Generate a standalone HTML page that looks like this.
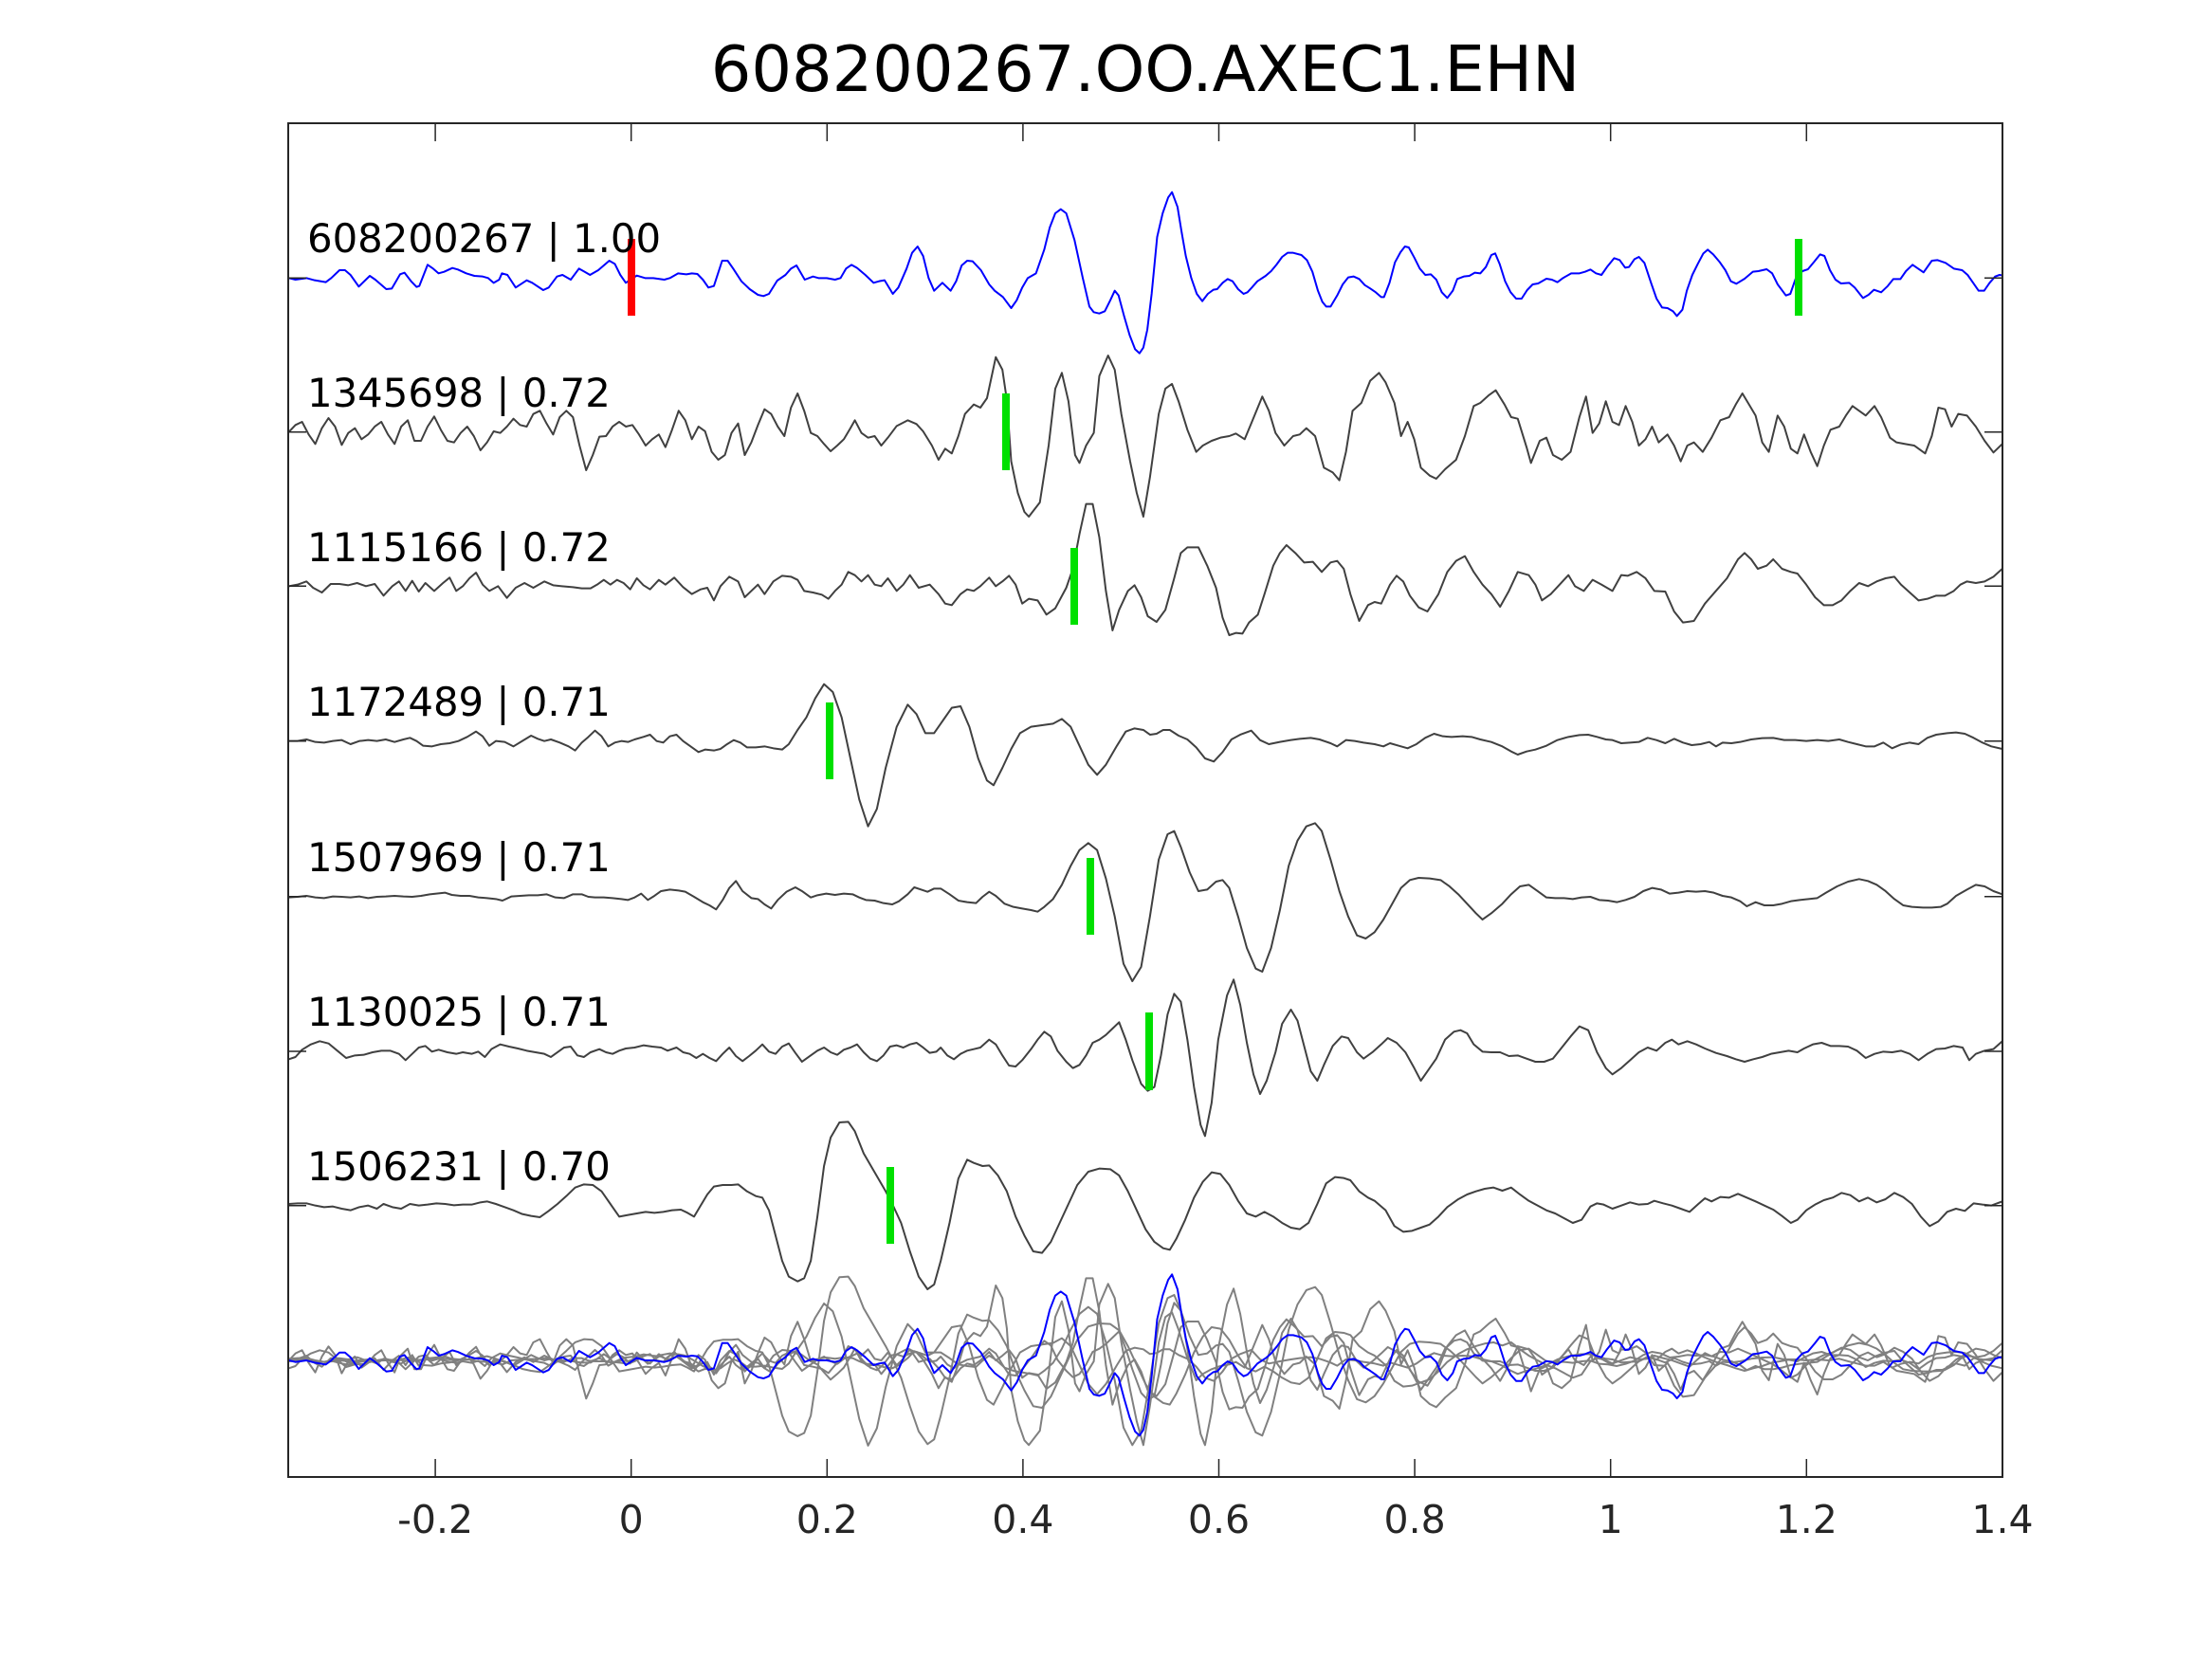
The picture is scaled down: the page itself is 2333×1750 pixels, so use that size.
<!DOCTYPE html>
<html><head><meta charset="utf-8"><style>
html,body{margin:0;padding:0;background:#fff;}
svg{display:block;}
text{font-family:"DejaVu Sans","Liberation Sans",sans-serif;}
</style></head><body>
<svg width="2333" height="1750" viewBox="0 0 2333 1750" xmlns="http://www.w3.org/2000/svg">
<rect width="2333" height="1750" fill="#fff"/>
<defs>
<clipPath id="ax"><rect x="304" y="130" width="1808" height="1428"/></clipPath>
<g id="t1" fill="none">
<polyline vector-effect="non-scaling-stroke" stroke-linejoin="round" transform="translate(300,180) scale(0.5807,0.33333)" points="8,340 20,345 40,340 55,347 75,353 85,340 100,315 110,315 120,330 135,367 155,333 165,345 185,375 195,373 210,328 218,323 230,350 240,368 245,365 260,298 270,310 280,325 290,320 305,308 315,313 330,325 345,333 360,335 370,340 380,355 390,345 395,325 405,330 420,370 440,347 450,355 470,378 480,370 495,335 505,330 520,345 535,310 545,320 555,330 570,315 590,285 600,295 610,330 620,355 640,332 655,340 670,340 690,345 700,340 715,325 730,328 740,325 750,327 760,345 770,370 780,365 795,285 805,285 815,310 830,350 845,375 860,393 870,397 880,390 895,348 910,330 920,310 930,300 945,345 960,335 970,340 985,340 1000,345 1010,340 1020,310 1030,298 1040,308 1055,330 1070,355 1080,350 1090,347 1105,390 1115,370 1130,310 1140,260 1150,240 1160,270 1170,340 1180,380 1195,355 1210,380 1220,350 1230,300 1240,285 1250,287 1265,315 1280,360 1290,380 1305,400 1320,435 1330,410 1340,370 1350,340 1365,325 1380,250 1390,180 1400,135 1410,122 1420,135 1435,220 1450,340 1462,430 1470,448 1480,452 1490,445 1500,410 1508,380 1515,395 1525,460 1535,520 1545,565 1553,578 1560,560 1567,505"/>
<polyline vector-effect="non-scaling-stroke" stroke-linejoin="round" transform="translate(1210,180) scale(0.5807,0.33333)" points="0,505 8,390 18,210 28,135 38,85 45,68 55,115 62,190 70,270 80,340 90,390 100,413 110,390 120,377 127,375 137,355 146,343 155,350 165,375 175,390 182,385 190,370 200,350 215,333 225,318 235,297 245,273 255,260 265,260 280,267 290,283 300,320 310,380 318,415 325,430 333,430 345,395 355,360 365,338 375,335 385,343 395,362 405,373 415,385 425,400 430,400 440,355 450,290 460,258 468,240 475,243 485,275 495,310 505,330 515,328 525,345 535,385 545,403 555,380 563,343 575,335 585,333 595,323 605,325 615,305 625,267 632,262 640,295 650,350 660,385 670,405 680,405 690,378 700,360 710,357 725,342 735,345 745,353 755,340 770,325 785,325 795,320 805,313 815,325 825,330 835,305 848,277 858,283 868,307 875,305 885,280 893,273 903,292 915,355 925,405 935,433 945,435 955,445 962,460 972,440 980,380 990,330 1000,295 1010,262 1018,250 1028,265 1040,290 1050,315 1060,350 1070,358 1085,342 1100,320 1110,318 1125,312 1135,325 1145,360 1160,395 1168,390 1178,340 1190,318 1200,312 1212,287 1222,265 1230,270 1240,315 1250,345 1260,357 1275,355 1285,370 1300,403 1310,393 1320,377 1333,385 1345,365 1355,343 1368,343 1378,318 1390,298 1400,310 1410,322 1425,285 1435,283 1450,292 1465,310 1480,315 1490,330 1500,355 1510,380 1520,380 1530,355 1540,335 1548,330 1555,332"/>
</g>
<polyline id="t2" fill="none" vector-effect="non-scaling-stroke" stroke-linejoin="round" transform="translate(300,370) scale(1.1614,0.33333)" points="4,257 10,235 16,225 22,265 28,295 34,245 40,213 46,240 52,298 58,260 64,245 70,280 76,265 82,240 88,225 94,265 100,295 106,240 112,220 118,285 124,285 130,240 136,208 142,250 148,285 154,290 160,260 166,240 172,270 178,315 184,290 190,255 196,260 202,240 208,215 214,235 220,240 226,200 232,190 238,230 244,265 250,210 256,190 262,210 268,300 274,378 280,330 286,272 292,270 298,240 304,225 310,240 316,235 322,265 328,300 334,280 340,265 346,305 352,250 358,190 364,220 370,280 376,240 382,255 388,320 394,345 400,330 406,260 412,230 418,330 424,290 430,235 436,185 442,200 448,240 454,270 460,180 466,135 472,190 478,260 484,270 490,295 496,318 502,300 508,280 514,245 518,220 524,260 530,275 536,270 542,300 548,275 556,238 566,220 574,232 580,255 588,300 594,345 600,310 606,325 612,270 618,200 626,170 632,180 638,150 646,20 652,60 656,155 660,350 666,450 672,510 676,525 686,480 694,300 700,120 706,70 712,160 718,330 722,355 728,300 735,260 740,80 748,15 754,60 760,200 768,350 774,450 780,525 786,400 794,200 800,120 806,105 812,160 820,250 828,320 834,300 842,285 850,275 858,270 864,262 872,280 878,230 888,145 894,190 900,260 908,300 916,270 922,265 928,245 936,270 944,370 952,385 958,410 964,320 970,190 978,165 986,95 994,70 1000,100 1008,165 1014,270 1020,225 1026,280 1032,370 1040,395 1046,405 1054,375 1064,345 1072,270 1080,175 1086,165 1094,140 1100,125 1108,170 1114,210 1120,215 1128,305 1132,355 1140,285 1146,275 1152,330 1160,345 1168,320 1176,210 1182,145 1188,260 1194,230 1200,160 1206,225 1212,235 1218,175 1224,225 1230,300 1236,280 1242,240 1248,290 1256,265 1262,300 1268,350 1274,300 1280,290 1288,320 1296,275 1304,220 1312,210 1318,170 1324,135 1330,170 1336,205 1342,290 1348,320 1356,205 1362,240 1368,310 1374,325 1380,265 1386,320 1392,365 1398,300 1404,250 1412,240 1418,205 1424,175 1430,190 1436,205 1444,175 1450,210 1458,275 1464,290 1472,295 1480,300 1490,325 1496,270 1502,180 1508,185 1514,240 1520,200 1528,205 1536,240 1544,285 1552,322 1560,295"/>
<polyline id="t3" fill="none" vector-effect="non-scaling-stroke" stroke-linejoin="round" transform="translate(300,370) scale(1.1614,0.33333)" points="4,745 12,740 20,730 26,750 34,765 42,738 50,738 58,742 66,735 74,745 82,738 90,775 98,745 104,730 110,760 116,728 122,762 128,735 136,760 144,735 150,718 156,760 162,745 168,720 174,702 180,740 186,760 194,745 202,782 210,750 218,735 226,750 236,730 244,742 252,745 262,748 270,752 278,752 284,740 290,725 296,740 302,725 308,735 314,755 320,720 326,742 332,755 340,725 346,740 354,718 362,748 370,770 378,755 384,750 390,790 396,745 404,715 412,730 418,780 424,760 430,740 436,770 444,730 452,712 460,715 466,725 472,760 480,765 488,772 494,785 500,760 506,740 512,700 518,710 524,730 530,710 536,740 542,745 548,720 556,760 562,740 568,710 576,750 586,740 594,770 600,800 606,805 614,770 620,755 626,760 632,745 640,718 646,745 652,730 658,712 664,740 670,800 676,785 684,790 692,835 700,815 710,750 716,690 722,580 728,485 734,485 740,590 746,760 752,885 758,820 766,760 772,742 778,780 784,840 792,858 800,820 808,720 814,640 820,622 830,622 838,680 846,750 852,845 858,900 864,893 870,895 876,860 884,835 890,770 898,680 904,640 910,615 918,640 926,670 934,668 942,700 950,670 956,665 962,690 968,770 976,855 984,805 990,795 996,800 1004,740 1010,712 1016,730 1022,775 1030,812 1038,825 1048,770 1056,700 1064,665 1072,650 1080,700 1088,740 1096,770 1104,810 1112,760 1120,700 1130,710 1136,740 1142,790 1150,770 1158,740 1166,710 1172,745 1180,760 1188,725 1196,740 1206,760 1214,710 1220,712 1228,700 1236,720 1244,760 1254,762 1262,825 1270,860 1280,855 1290,800 1300,760 1310,720 1320,660 1326,640 1332,660 1338,690 1346,680 1352,660 1360,690 1368,700 1374,705 1382,740 1390,780 1398,805 1406,805 1414,790 1422,760 1430,735 1438,745 1446,730 1454,720 1462,715 1468,740 1476,765 1484,790 1492,785 1500,775 1508,775 1516,760 1522,740 1528,730 1536,735 1544,730 1552,715 1560,690"/>
<polyline id="t4" fill="none" vector-effect="non-scaling-stroke" stroke-linejoin="round" transform="translate(300,700) scale(1.1614,0.33333)" points="4,245 12,245 20,240 28,248 36,250 44,245 52,242 60,255 68,245 76,242 84,245 92,240 100,248 108,240 114,235 120,245 126,260 134,262 142,255 150,252 158,245 166,232 174,215 180,230 186,260 192,245 200,248 208,262 216,245 224,228 230,238 236,245 242,240 250,250 258,262 264,275 270,250 276,232 282,212 288,230 294,262 300,250 306,245 312,248 318,240 326,232 332,225 338,245 344,250 350,230 356,225 362,245 370,265 376,280 382,272 390,275 396,270 402,255 408,242 414,250 420,265 428,265 436,262 444,268 452,272 458,255 466,210 474,170 482,110 490,65 498,90 506,170 514,300 522,430 530,515 538,460 546,330 556,200 566,130 574,160 582,220 590,220 598,180 606,140 614,135 622,200 630,300 638,370 644,385 652,330 660,270 668,220 678,200 688,195 698,190 706,175 714,200 722,260 730,320 738,352 746,320 756,260 764,215 772,205 780,210 786,225 792,222 798,210 804,210 812,228 820,240 828,265 836,300 844,310 852,280 860,240 868,225 878,212 886,242 894,255 904,248 914,242 922,238 932,235 940,240 950,252 956,262 964,242 972,245 980,250 990,255 998,262 1004,252 1012,260 1020,268 1028,255 1036,235 1044,222 1052,230 1060,232 1070,230 1078,232 1086,240 1096,248 1106,262 1114,278 1120,288 1128,278 1136,272 1146,260 1156,242 1166,232 1176,226 1184,225 1192,232 1200,240 1206,242 1214,252 1222,250 1230,248 1238,235 1246,242 1254,252 1262,238 1270,250 1278,258 1286,255 1294,248 1300,262 1306,250 1314,252 1322,248 1332,240 1342,236 1352,235 1362,242 1372,242 1382,245 1392,242 1402,245 1412,240 1420,248 1428,255 1436,262 1444,262 1452,250 1460,268 1468,256 1476,250 1484,255 1492,235 1500,225 1510,220 1518,218 1526,222 1534,235 1542,250 1550,262 1560,270"/>
<polyline id="t5" fill="none" vector-effect="non-scaling-stroke" stroke-linejoin="round" transform="translate(300,700) scale(1.1614,0.33333)" points="4,740 12,738 20,735 28,740 36,742 44,737 52,738 60,740 68,737 76,742 84,738 92,737 100,735 108,737 116,738 124,735 132,730 140,727 146,725 152,732 160,735 168,735 176,740 184,742 192,745 198,750 206,737 214,735 222,733 230,733 238,730 246,740 254,742 262,730 270,730 276,738 282,740 290,740 298,742 306,745 312,748 318,740 324,728 330,748 336,735 342,720 350,715 358,718 364,722 372,738 380,755 386,765 392,778 398,748 404,710 410,688 416,720 424,742 430,745 436,762 442,775 448,748 456,722 464,708 470,720 478,740 484,733 492,728 500,732 508,728 516,730 522,740 528,748 536,750 544,758 552,762 558,752 566,730 572,708 578,715 584,722 590,712 596,712 604,730 612,750 620,755 628,758 634,738 640,722 646,735 654,760 662,770 670,775 678,780 684,785 690,770 698,745 706,700 714,640 722,590 730,568 738,590 746,680 754,800 762,950 770,1005 778,960 786,800 794,620 802,540 808,530 814,580 822,660 830,720 838,715 846,690 852,685 858,710 866,800 874,900 882,965 888,975 896,900 904,780 912,640 920,560 928,515 936,505 942,530 950,620 958,720 966,800 974,860 982,870 990,850 998,810 1006,760 1014,710 1022,685 1030,678 1040,680 1050,685 1058,705 1066,730 1074,760 1082,790 1088,810 1096,790 1106,760 1114,730 1122,705 1130,700 1138,720 1146,740 1154,742 1162,742 1170,745 1178,740 1186,738 1194,748 1202,750 1210,755 1218,748 1226,738 1234,720 1242,710 1250,715 1258,728 1266,725 1274,720 1282,722 1290,720 1298,725 1306,735 1314,740 1322,752 1328,768 1336,755 1344,765 1352,765 1360,760 1368,752 1376,748 1384,745 1392,742 1400,725 1410,705 1420,690 1430,682 1438,688 1446,700 1454,720 1462,745 1470,765 1478,770 1488,772 1496,772 1504,770 1510,760 1518,735 1528,715 1536,700 1544,705 1552,720 1560,730"/>
<polyline id="t6" fill="none" vector-effect="non-scaling-stroke" stroke-linejoin="round" transform="translate(300,1030) scale(1.1614,0.33333)" points="4,262 10,255 16,232 24,215 32,205 40,212 48,235 56,258 64,250 72,248 80,240 88,235 96,235 104,245 110,265 116,245 122,225 128,220 134,238 140,232 148,240 156,245 162,240 170,245 176,238 182,255 188,230 196,215 204,222 212,228 220,235 228,240 236,245 242,255 248,240 254,225 260,222 266,250 272,255 278,240 286,230 292,240 298,245 304,235 310,228 318,225 326,218 334,222 342,225 348,235 356,225 362,240 368,245 374,258 380,245 386,258 392,268 398,245 404,225 410,252 416,268 422,252 428,235 434,215 440,238 446,245 452,222 458,212 464,242 470,270 476,255 484,235 490,225 496,240 502,248 508,232 514,225 520,215 526,240 532,260 538,268 544,250 550,222 556,218 562,225 568,215 574,210 580,225 586,242 592,238 596,225 602,250 608,262 614,245 620,235 626,230 632,225 640,200 646,215 652,250 658,282 664,285 670,265 678,230 684,200 690,175 696,190 702,235 710,270 716,290 722,280 728,250 734,210 740,200 746,185 752,165 758,145 764,200 770,265 778,340 784,362 790,350 796,250 802,120 808,55 814,80 820,200 826,350 832,470 836,505 842,400 848,200 856,60 862,10 868,90 874,210 880,310 886,372 892,330 900,240 906,150 914,105 920,140 926,220 932,300 938,330 944,280 952,220 960,190 966,195 974,240 980,260 988,240 996,215 1002,195 1010,210 1018,240 1026,290 1032,330 1040,290 1046,260 1054,200 1062,175 1068,170 1074,180 1080,215 1088,238 1096,240 1104,240 1112,252 1120,250 1128,260 1136,270 1144,270 1152,260 1160,225 1168,190 1176,158 1184,170 1192,240 1200,290 1206,310 1214,290 1222,265 1230,240 1238,225 1246,235 1254,210 1260,200 1266,215 1274,205 1282,215 1290,228 1300,242 1310,252 1318,262 1326,270 1334,262 1342,255 1350,245 1358,240 1366,235 1374,240 1380,228 1388,215 1396,210 1404,220 1412,220 1420,222 1428,235 1436,258 1444,245 1452,238 1460,240 1468,235 1476,245 1484,265 1492,245 1500,230 1508,228 1516,220 1524,225 1530,265 1536,245 1544,235 1552,230 1560,205"/>
<polyline id="t7" fill="none" vector-effect="non-scaling-stroke" stroke-linejoin="round" transform="translate(300,1030) scale(1.1614,0.33333)" points="4,720 12,718 20,718 28,725 36,730 44,728 52,735 60,740 68,730 76,725 84,735 90,720 98,730 106,735 114,720 122,725 130,722 138,718 146,720 154,724 162,722 170,722 178,715 184,712 192,720 200,730 208,740 216,752 224,758 232,762 240,742 248,720 256,695 264,668 272,658 280,660 288,680 296,720 304,760 312,755 320,750 328,745 336,748 344,745 352,740 360,738 366,748 372,760 378,725 384,690 390,665 398,660 406,660 412,658 420,680 428,695 434,700 440,740 446,820 452,900 458,950 466,965 472,955 478,900 484,760 490,600 496,510 504,462 512,460 518,490 526,560 536,620 546,680 552,720 560,780 568,870 576,950 584,990 590,975 596,900 604,780 612,640 620,580 626,590 634,600 640,598 648,630 656,680 664,760 672,820 680,870 688,875 696,840 704,780 712,720 720,660 730,618 740,608 750,610 758,630 766,680 774,740 782,800 790,840 798,860 804,865 810,830 818,770 826,700 834,650 842,620 850,625 858,660 866,710 874,750 882,760 890,745 898,760 906,780 914,795 922,800 930,780 938,720 946,655 954,635 962,638 968,645 976,680 984,700 990,710 1000,740 1008,790 1016,808 1024,805 1032,795 1040,785 1048,760 1056,730 1066,705 1074,690 1082,680 1090,672 1098,668 1106,678 1114,668 1122,690 1130,710 1138,725 1146,740 1154,750 1162,765 1170,780 1178,770 1186,728 1192,718 1198,722 1206,735 1214,725 1222,715 1230,722 1238,720 1244,710 1252,718 1260,725 1268,735 1276,745 1284,720 1290,702 1296,712 1304,698 1312,700 1320,688 1328,700 1336,712 1344,725 1352,738 1360,758 1368,780 1374,770 1382,740 1390,722 1398,708 1406,700 1414,685 1422,692 1430,712 1438,700 1446,715 1454,705 1462,685 1470,698 1478,720 1486,760 1494,790 1502,775 1510,745 1518,735 1526,742 1534,718 1542,722 1550,725 1560,712"/>
</defs>

<!-- title -->
<text x="1208" y="96" font-size="67" text-anchor="middle" fill="#000">608200267.OO.AXEC1.EHN</text>

<g clip-path="url(#ax)">
<!-- main traces -->
<use href="#t1" stroke="#0000ff" stroke-width="2"/>
<use href="#t2" stroke="#404040" stroke-width="2"/>
<use href="#t3" stroke="#404040" stroke-width="2"/>
<use href="#t4" stroke="#404040" stroke-width="2"/>
<use href="#t5" stroke="#404040" stroke-width="2"/>
<use href="#t6" stroke="#404040" stroke-width="2"/>
<use href="#t7" stroke="#404040" stroke-width="2"/>
<!-- overlay -->
<use href="#t2" transform="translate(0,979.3)" stroke="#808080" stroke-width="2"/>
<use href="#t3" transform="translate(0,816.7)" stroke="#808080" stroke-width="2"/>
<use href="#t4" transform="translate(0,653.3)" stroke="#808080" stroke-width="2"/>
<use href="#t5" transform="translate(0,489.3)" stroke="#808080" stroke-width="2"/>
<use href="#t6" transform="translate(0,326)" stroke="#808080" stroke-width="2"/>
<use href="#t7" transform="translate(0,163.3)" stroke="#808080" stroke-width="2"/>
<use href="#t1" transform="translate(0,1141.7)" stroke="#0000ff" stroke-width="2"/>
</g>

<!-- markers -->
<rect x="662" y="252" width="8" height="81" fill="#ff0000"/>
<rect x="1893" y="252" width="8" height="81" fill="#00e000"/>
<rect x="1057" y="415" width="8" height="81" fill="#00e000"/>
<rect x="1129" y="578" width="8" height="81" fill="#00e000"/>
<rect x="871" y="741" width="8" height="81" fill="#00e000"/>
<rect x="1146" y="905" width="8" height="81" fill="#00e000"/>
<rect x="1208" y="1068" width="8" height="82" fill="#00e000"/>
<rect x="935" y="1231" width="8" height="81" fill="#00e000"/>

<!-- labels -->
<g font-size="41.8" fill="#000">
<text x="324" y="266">608200267 | 1.00</text>
<text x="324" y="429">1345698 | 0.72</text>
<text x="324" y="592">1115166 | 0.72</text>
<text x="324" y="755">1172489 | 0.71</text>
<text x="324" y="919">1507969 | 0.71</text>
<text x="324" y="1082">1130025 | 0.71</text>
<text x="324" y="1245">1506231 | 0.70</text>
</g>

<!-- axes box -->
<rect x="304" y="130" width="1808" height="1428" fill="none" stroke="#262626" stroke-width="2"/>
<!-- x ticks -->
<g stroke="#262626" stroke-width="1.5">
<line x1="459.1" y1="1558" x2="459.1" y2="1539"/><line x1="459.1" y1="130" x2="459.1" y2="149"/>
<line x1="665.7" y1="1558" x2="665.7" y2="1539"/><line x1="665.7" y1="130" x2="665.7" y2="149"/>
<line x1="872.3" y1="1558" x2="872.3" y2="1539"/><line x1="872.3" y1="130" x2="872.3" y2="149"/>
<line x1="1078.9" y1="1558" x2="1078.9" y2="1539"/><line x1="1078.9" y1="130" x2="1078.9" y2="149"/>
<line x1="1285.5" y1="1558" x2="1285.5" y2="1539"/><line x1="1285.5" y1="130" x2="1285.5" y2="149"/>
<line x1="1492.1" y1="1558" x2="1492.1" y2="1539"/><line x1="1492.1" y1="130" x2="1492.1" y2="149"/>
<line x1="1698.7" y1="1558" x2="1698.7" y2="1539"/><line x1="1698.7" y1="130" x2="1698.7" y2="149"/>
<line x1="1905.3" y1="1558" x2="1905.3" y2="1539"/><line x1="1905.3" y1="130" x2="1905.3" y2="149"/>
<!-- y ticks -->
<line x1="304" y1="293.3" x2="323" y2="293.3"/><line x1="2093" y1="293.3" x2="2112" y2="293.3"/>
<line x1="304" y1="455.7" x2="323" y2="455.7"/><line x1="2093" y1="455.7" x2="2112" y2="455.7"/>
<line x1="304" y1="618.3" x2="323" y2="618.3"/><line x1="2093" y1="618.3" x2="2112" y2="618.3"/>
<line x1="304" y1="781.7" x2="323" y2="781.7"/><line x1="2093" y1="781.7" x2="2112" y2="781.7"/>
<line x1="304" y1="945.7" x2="323" y2="945.7"/><line x1="2093" y1="945.7" x2="2112" y2="945.7"/>
<line x1="304" y1="1109" x2="323" y2="1109"/><line x1="2093" y1="1109" x2="2112" y2="1109"/>
<line x1="304" y1="1271.7" x2="323" y2="1271.7"/><line x1="2093" y1="1271.7" x2="2112" y2="1271.7"/>
</g>
<!-- x tick labels -->
<g font-size="41" fill="#262626" text-anchor="middle">
<text x="459.1" y="1617">-0.2</text>
<text x="665.7" y="1617">0</text>
<text x="872.3" y="1617">0.2</text>
<text x="1078.9" y="1617">0.4</text>
<text x="1285.5" y="1617">0.6</text>
<text x="1492.1" y="1617">0.8</text>
<text x="1698.7" y="1617">1</text>
<text x="1905.3" y="1617">1.2</text>
<text x="2112" y="1617">1.4</text>
</g>
</svg>
</body></html>
